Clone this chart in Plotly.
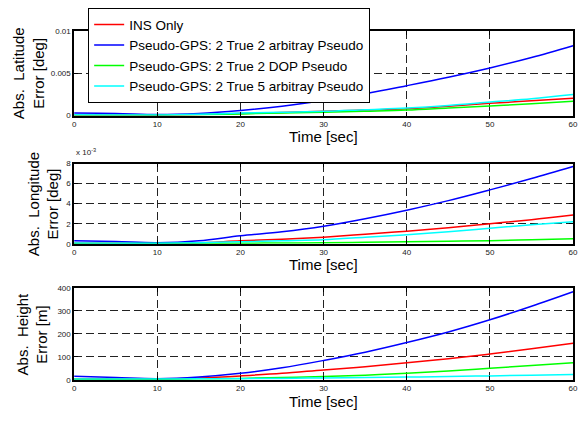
import plotly.graph_objects as go

t = [0, 5, 10, 15, 20, 25, 30, 35, 40, 45, 50, 55, 60]

names = ["INS Only",
         "Pseudo-GPS: 2 True 2 arbitray Pseudo",
         "Pseudo-GPS: 2 True 2 DOP Pseudo",
         "Pseudo-GPS: 2 True 5 arbitray Pseudo"]
colors = ["#ff0000", "#0000ff", "#00ff00", "#00ffff"]

# Abs. Latitude error [deg]
lat_ins   = [0.00005, 0.00004, 0.00004, 0.00012, 0.00024, 0.00036, 0.0005, 0.00065, 0.0008, 0.0011, 0.00145, 0.00175, 0.00205]
lat_2arb  = [0.0003, 0.00025, 0.00012, 0.00025, 0.0006, 0.0011, 0.0018, 0.0026, 0.00355, 0.00455, 0.00565, 0.0069, 0.0083]
lat_2dop  = [0.00005, 0.00004, 0.00004, 0.0001, 0.0002, 0.0003, 0.0004, 0.00052, 0.00065, 0.0009, 0.00115, 0.0014, 0.0017]
lat_5arb  = [0.0001, 0.00008, 0.00006, 0.00015, 0.0003, 0.0004, 0.0005, 0.0007, 0.0009, 0.0012, 0.0016, 0.002, 0.0025]

# Abs. Longitude error [deg]
lon_ins   = [0.00005, 0.00004, 0.00004, 0.0001, 0.0003, 0.00045, 0.00066, 0.00095, 0.00125, 0.0016, 0.002, 0.0024, 0.00287]
lon_2arb  = [0.0003, 0.00022, 0.0001, 0.0003, 0.0008, 0.0012, 0.00175, 0.0025, 0.00335, 0.0043, 0.00537, 0.0065, 0.0077]
lon_2dop  = [0.00003, 0.00003, 0.00003, 0.00004, 0.00005, 0.00008, 0.0001, 0.00015, 0.0002, 0.00025, 0.0003, 0.0004, 0.0005]
lon_5arb  = [0.00008, 0.00006, 0.00005, 0.0001, 0.0002, 0.0003, 0.0004, 0.00065, 0.0009, 0.0012, 0.00155, 0.0019, 0.0022]

# Abs. Height error [m]
h_ins   = [3, 3, 3, 8, 17, 28, 43, 57, 74, 92, 112, 135, 159]
h_2arb  = [15, 10, 5, 12, 28, 52, 84, 120, 162, 208, 261, 320, 383]
h_2dop  = [2, 2, 2, 4, 6, 10, 14, 20, 28, 38, 50, 62, 74]
h_5arb  = [3, 3, 3, 4, 5, 6, 8, 10, 12, 14, 17, 20, 23]

lat_series = [lat_ins, lat_2arb, lat_2dop, lat_5arb]
lon_series = [lon_ins, lon_2arb, lon_2dop, lon_5arb]
h_series = [h_ins, h_2arb, h_2dop, h_5arb]

time_ticks = [0, 10, 20, 30, 40, 50, 60]
lat_ticks = [0, 0.005, 0.01]
lat_ticktext = ["0", "0.005", "0.01"]
lon_ticks = [0, 0.002, 0.004, 0.006, 0.008]
lon_ticktext = ["0", "2", "4", "6", "8"]
h_ticks = [0, 100, 200, 300, 400]

W, H = 583, 421
x0, x1 = 73, 578
panels = [(28, 114), (163, 245), (290, 384)]
xtitle_y = [135, 266, 406]
ytitle_x = [27, 42, 31]
ytitles = ["Abs.  Latitude<br>Error [deg]", "Abs.  Longitude<br>Error [deg]", "Abs.  Height<br>Error [m]"]

def ydom(top, bot):
    return [1 - bot / H, 1 - top / H]

fig = go.Figure()
font = "Liberation Sans, Arial, sans-serif"

for k, series in enumerate([lat_series, lon_series, h_series]):
    xa = "x" if k == 0 else f"x{k+1}"
    ya = "y" if k == 0 else f"y{k+1}"
    for i, s in enumerate(series):
        fig.add_trace(go.Scatter(x=t, y=s, mode="lines", name=names[i],
                                 line=dict(color=colors[i], width=1.5, shape="spline"),
                                 showlegend=(k == 0), xaxis=xa, yaxis=ya))

axis_common = dict(showline=True, linecolor="black", linewidth=1.5, mirror="allticks",
                   showgrid=True, gridcolor="#222222", griddash="8px,4px", gridwidth=1,
                   zeroline=False, ticks="inside", ticklen=4, tickcolor="black",
                   ticklabeloverflow="allow",
                   tickfont=dict(size=8, color="#222", family=font))

yinfo = [
    dict(range=[0, 0.01], tickvals=lat_ticks, ticktext=lat_ticktext),
    dict(range=[0, 0.008], tickvals=lon_ticks, ticktext=lon_ticktext),
    dict(range=[0, 400], tickvals=h_ticks),
]

layout = dict(width=W, height=H, margin=dict(l=0, r=0, t=0, b=0),
              paper_bgcolor="white", plot_bgcolor="white",
              font=dict(family=font, size=12, color="black"))

for k in range(3):
    top, bot = panels[k]
    xkey = "xaxis" if k == 0 else f"xaxis{k+1}"
    ykey = "yaxis" if k == 0 else f"yaxis{k+1}"
    xanchor = "y" if k == 0 else f"y{k+1}"
    yanchor = "x" if k == 0 else f"x{k+1}"
    layout[xkey] = dict(domain=[x0 / W, x1 / W], range=[0, 60], tickvals=time_ticks,
                        anchor=xanchor, **axis_common)
    layout[ykey] = dict(domain=ydom(top, bot), anchor=yanchor, **yinfo[k], **axis_common)

layout["legend"] = dict(x=87 / W, y=1 - 4 / H, xanchor="left", yanchor="top",
                        bgcolor="white", bordercolor="black", borderwidth=1.2,
                        font=dict(size=13.5, family=font), tracegroupgap=0,
                        itemwidth=30)

fig.update_layout(**layout)

for k in range(3):
    fig.add_annotation(text="Time [sec]", x=(x0 + x1) / 2 / W, y=1 - xtitle_y[k] / H,
                       xref="paper", yref="paper", xanchor="center", yanchor="middle",
                       showarrow=False, font=dict(size=15, family=font))
    top, bot = panels[k]
    fig.add_annotation(text=ytitles[k], x=ytitle_x[k] / W, y=1 - (top + bot) / 2 / H,
                       xref="paper", yref="paper", xanchor="center", yanchor="middle",
                       textangle=-90, showarrow=False, font=dict(size=15, family=font))

fig.add_annotation(text="x 10<sup>-3</sup>", x=x0 / W, y=1 - 158 / H, xref="paper", yref="paper",
                   xanchor="left", yanchor="bottom", showarrow=False,
                   font=dict(size=8, color="#222", family=font))

fig.write_html("out.html", config={"displayModeBar": False},
               post_script="document.body.style.margin='0';")
